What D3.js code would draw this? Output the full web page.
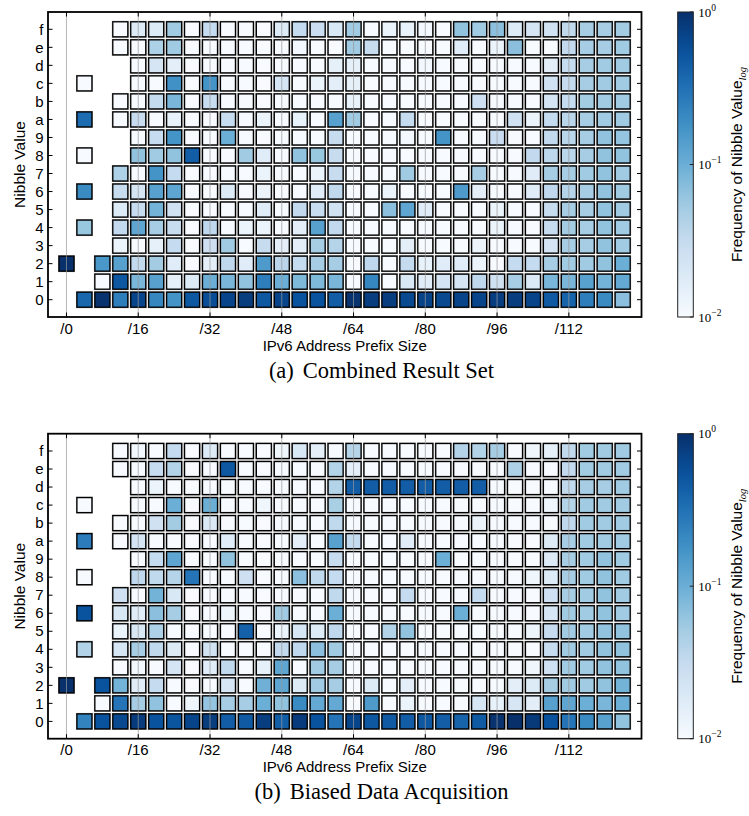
<!DOCTYPE html>
<html>
<head>
<meta charset="utf-8">
<script src="https://cdn.jsdelivr.net/npm/d3@7"></script>
<style>
  body { margin: 0; background: #fff; }
  svg { display: block; }
</style>
</head>
<body>
<svg id="chart" width="749" height="816"></svg>
<script>
// Nibble values on the vertical axis (row index 0..15)
const nibbleLabels = ["0","1","2","3","4","5","6","7","8","9","a","b","c","d","e","f"];
// Prefix sizes (bits) marked on the horizontal axis
const prefixTicks = [0, 16, 32, 48, 64, 80, 96, 112];
const prefixTickLabels = ["/0", "/16", "/32", "/48", "/64", "/80", "/96", "/112"];
// Colour bar ticks (log scale) and their exponents
const colorbarTicks = [1, 0.1, 0.01];
const colorbarExponents = ["0", "\u22121", "\u22122"];

// Frequency of each nibble value at nibble positions 0..31 (null = value never seen)
// (a) Combined result set — one array per nibble value 0..f
const combinedSet = [
  /* 0 */ [null,0.38,0.95,0.25,0.7,0.22,0.17,0.5,0.6,0.7,0.8,0.5,0.7,0.55,0.55,0.45,0.95,0.78,0.78,0.65,0.72,0.65,0.7,0.7,0.78,0.78,0.7,0.48,0.4,0.25,0.2,0.07],
  /* 1 */ [null,null,0.01,0.5,0.085,0.13,0.015,0.018,0.1,0.085,0.065,0.25,0.1,0.08,0.08,0.085,0.01,0.22,0.01,0.02,0.017,0.022,0.022,0.035,0.025,0.05,0.019,0.085,0.085,0.13,0.09,0.11],
  /* 2 */ [1.0,null,0.16,0.13,0.033,0.052,0.017,0.01,0.016,0.035,0.017,0.15,0.037,0.032,0.05,0.05,0.01,0.035,0.01,0.032,0.014,0.017,0.017,0.013,0.01,0.032,0.032,0.05,0.055,0.055,0.065,0.1],
  /* 3 */ [null,null,null,0.013,0.01,0.015,0.032,0.01,0.027,0.055,0.01,0.03,0.016,0.016,0.05,0.04,0.01,0.01,0.01,0.016,0.01,0.01,0.01,0.013,0.01,0.01,0.01,0.022,0.05,0.05,0.065,0.055],
  /* 4 */ [null,0.06,null,0.033,0.12,0.05,0.03,0.01,0.035,0.01,0.013,0.013,0.01,0.016,0.13,0.033,0.01,0.01,0.01,0.01,0.01,0.01,0.01,0.01,0.013,0.01,0.01,0.03,0.052,0.05,0.065,0.055],
  /* 5 */ [null,null,null,0.018,0.03,0.09,0.025,0.01,0.01,0.01,0.01,0.017,0.01,0.033,0.03,0.025,0.01,0.01,0.07,0.12,0.017,0.01,0.01,0.01,0.013,0.01,0.01,0.03,0.05,0.05,0.065,0.055],
  /* 6 */ [null,0.2,null,0.03,0.022,0.13,0.12,0.01,0.01,0.018,0.01,0.013,0.01,0.01,0.017,0.034,0.01,0.01,0.013,0.01,0.01,0.01,0.15,0.016,0.01,0.01,0.017,0.035,0.04,0.05,0.065,0.055],
  /* 7 */ [null,null,null,0.045,0.01,0.17,0.032,0.01,0.01,0.01,0.01,0.013,0.01,0.01,0.013,0.03,0.01,0.01,0.01,0.055,0.01,0.01,0.01,0.05,0.01,0.01,0.017,0.05,0.05,0.055,0.065,0.055],
  /* 8 */ [null,0.01,null,null,0.065,0.055,0.065,0.45,0.01,0.01,0.055,0.017,0.01,0.065,0.06,0.03,0.01,0.01,0.01,0.01,0.01,0.01,0.01,0.01,0.01,0.01,0.033,0.036,0.038,0.05,0.065,0.065],
  /* 9 */ [null,null,null,null,0.01,0.03,0.17,0.01,0.01,0.1,0.01,0.01,0.01,0.01,0.01,0.03,0.01,0.01,0.01,0.011,0.01,0.17,0.01,0.01,0.029,0.01,0.01,0.033,0.038,0.05,0.065,0.063],
  /* a */ [null,0.35,null,0.01,0.03,0.01,0.014,0.01,0.01,0.03,0.01,0.013,0.01,0.014,0.01,0.13,0.055,0.01,0.01,0.032,0.01,0.01,0.01,0.01,0.01,0.025,0.013,0.032,0.038,0.05,0.055,0.055],
  /* b */ [null,null,null,0.01,0.01,0.032,0.085,0.01,0.03,0.01,0.01,0.01,0.01,0.01,0.01,0.01,0.014,0.01,0.01,0.01,0.01,0.01,0.01,0.026,0.01,0.01,0.01,0.022,0.032,0.052,0.055,0.055],
  /* c */ [null,0.01,null,null,0.01,0.01,0.18,0.01,0.17,0.01,0.01,0.01,0.021,0.01,0.013,0.016,0.015,0.01,0.01,0.01,0.01,0.01,0.01,0.01,0.01,0.01,0.01,0.024,0.032,0.05,0.055,0.055],
  /* d */ [null,null,null,null,0.01,0.022,0.016,0.01,0.01,0.01,0.01,0.01,0.01,0.01,0.01,0.015,0.015,0.01,0.01,0.01,0.011,0.01,0.01,0.01,0.01,0.01,0.01,0.016,0.032,0.05,0.055,0.055],
  /* e */ [null,null,null,0.01,0.01,0.045,0.055,0.01,0.01,0.01,0.01,0.01,0.01,0.011,0.01,0.01,0.055,0.03,0.01,0.01,0.01,0.01,0.017,0.01,0.013,0.07,0.01,0.01,0.033,0.05,0.05,0.055],
  /* f */ [null,null,null,0.01,0.018,0.018,0.055,0.01,0.032,0.01,0.01,0.01,0.018,0.032,0.028,0.02,0.055,0.01,0.013,0.014,0.011,0.01,0.065,0.055,0.07,0.018,0.022,0.024,0.034,0.05,0.05,0.052]
];

// (b) Biased data acquisition — one array per nibble value 0..f
const biasedSet = [
  /* 0 */ [null,0.23,0.55,0.65,0.82,0.55,0.52,0.7,0.8,0.45,0.48,0.78,0.44,0.82,0.55,0.3,0.7,0.5,0.48,0.45,0.5,0.45,0.4,0.48,0.95,1.0,0.85,0.55,0.3,0.2,0.13,0.065],
  /* 1 */ [null,null,0.01,0.3,0.05,0.065,0.01,0.012,0.063,0.05,0.05,0.1,0.065,0.2,0.11,0.11,0.01,0.15,0.01,0.013,0.01,0.01,0.01,0.021,0.014,0.021,0.016,0.13,0.12,0.1,0.085,0.1],
  /* 2 */ [1.0,null,0.55,0.09,0.017,0.032,0.01,0.01,0.01,0.021,0.01,0.095,0.12,0.018,0.055,0.05,0.01,0.018,0.01,0.016,0.01,0.01,0.01,0.01,0.01,0.016,0.018,0.05,0.055,0.055,0.065,0.09],
  /* 3 */ [null,null,null,0.01,0.011,0.01,0.022,0.01,0.017,0.034,0.01,0.015,0.12,0.01,0.055,0.05,0.01,0.01,0.01,0.01,0.01,0.01,0.01,0.01,0.01,0.01,0.012,0.026,0.055,0.055,0.065,0.065],
  /* 4 */ [null,0.042,null,0.021,0.05,0.034,0.018,0.01,0.024,0.01,0.01,0.01,0.033,0.035,0.07,0.055,0.01,0.01,0.01,0.01,0.01,0.01,0.01,0.01,0.01,0.01,0.01,0.03,0.055,0.055,0.065,0.065],
  /* 5 */ [null,null,null,0.013,0.02,0.045,0.01,0.01,0.01,0.01,0.42,0.01,0.013,0.021,0.018,0.035,0.01,0.01,0.042,0.065,0.01,0.01,0.01,0.01,0.01,0.01,0.013,0.03,0.055,0.055,0.065,0.065],
  /* 6 */ [null,0.55,null,0.02,0.017,0.07,0.05,0.01,0.01,0.012,0.01,0.01,0.055,0.01,0.01,0.1,0.01,0.01,0.01,0.01,0.01,0.01,0.1,0.01,0.01,0.01,0.01,0.021,0.055,0.055,0.065,0.055],
  /* 7 */ [null,null,null,0.026,0.01,0.09,0.02,0.01,0.01,0.01,0.01,0.01,0.01,0.01,0.01,0.034,0.01,0.01,0.01,0.032,0.01,0.01,0.01,0.032,0.01,0.01,0.01,0.026,0.05,0.055,0.065,0.055],
  /* 8 */ [null,0.01,null,null,0.035,0.034,0.04,0.3,0.01,0.01,0.026,0.01,0.01,0.07,0.034,0.032,0.01,0.01,0.01,0.01,0.01,0.01,0.01,0.01,0.01,0.01,0.012,0.018,0.05,0.055,0.065,0.055],
  /* 9 */ [null,null,null,null,0.01,0.032,0.12,0.01,0.01,0.065,0.01,0.01,0.01,0.01,0.01,0.03,0.01,0.01,0.01,0.01,0.01,0.1,0.01,0.01,0.01,0.01,0.01,0.018,0.05,0.055,0.065,0.055],
  /* a */ [null,0.26,null,0.01,0.022,0.01,0.01,0.01,0.01,0.017,0.01,0.01,0.01,0.016,0.01,0.13,0.032,0.01,0.01,0.017,0.01,0.01,0.01,0.01,0.01,0.01,0.01,0.018,0.05,0.055,0.055,0.055],
  /* b */ [null,null,null,0.01,0.01,0.025,0.052,0.01,0.019,0.01,0.01,0.01,0.01,0.01,0.01,0.034,0.01,0.01,0.01,0.01,0.01,0.01,0.01,0.013,0.01,0.01,0.01,0.01,0.035,0.055,0.055,0.055],
  /* c */ [null,0.01,null,null,0.01,0.01,0.1,0.01,0.1,0.01,0.01,0.012,0.01,0.01,0.01,0.048,0.01,0.01,0.01,0.01,0.01,0.01,0.01,0.01,0.01,0.01,0.01,0.012,0.042,0.055,0.055,0.055],
  /* d */ [null,null,null,null,0.01,0.013,0.01,0.01,0.01,0.01,0.01,0.01,0.01,0.01,0.01,0.042,0.45,0.45,0.45,0.45,0.45,0.45,0.45,0.45,0.01,0.01,0.01,0.01,0.034,0.05,0.05,0.055],
  /* e */ [null,null,null,0.01,0.01,0.03,0.042,0.01,0.01,0.5,0.01,0.01,0.01,0.01,0.01,0.042,0.016,0.01,0.01,0.01,0.01,0.01,0.01,0.01,0.01,0.045,0.01,0.01,0.033,0.055,0.055,0.055],
  /* f */ [null,null,null,0.01,0.011,0.01,0.032,0.01,0.018,0.01,0.01,0.01,0.012,0.02,0.016,0.01,0.04,0.01,0.01,0.01,0.01,0.01,0.042,0.042,0.05,0.01,0.012,0.015,0.034,0.055,0.055,0.055]
];

const svg = d3.select("#chart");
svg.append("rect").attr("width", 749).attr("height", 816).attr("fill", "#fff");

const sansFont = "'Liberation Sans', Arial, Helvetica, sans-serif";
const serifFont = "'Liberation Serif', 'Times New Roman', serif";

// Horizontal axis in bits; each nibble sits at bit 4*i
const plotLeft = 48, plotRight = 641.5;
const x = d3.scaleLinear().domain([-4.12, 128.2]).range([plotLeft, plotRight]);

// matplotlib-style "Blues" map on a log scale from 1e-2 to 1e0
const bluesRamp = d3.scaleLinear()
  .domain(d3.range(9).map(i => i / 8))
  .range(d3.schemeBlues[9])
  .interpolate(d3.interpolateRgb);
const logPos = d3.scaleLog().domain([0.01, 1]).range([0, 1]).clamp(true);
const color = v => bluesRamp(logPos(v));

// Shared vertical gradient for the colour bars
const defs = svg.append("defs");
const grad = defs.append("linearGradient")
  .attr("id", "cbGrad").attr("x1", 0).attr("y1", 1).attr("x2", 0).attr("y2", 0);
d3.range(0, 1.0001, 0.05).forEach(t => {
  grad.append("stop").attr("offset", t).attr("stop-color", bluesRamp(t));
});

function drawPanel(top, data, captionLabel, captionText, captionY) {
  const bottom = top + 305;
  const y = d3.scaleLinear().domain([-0.96, 15.96]).range([bottom, top]);
  const g = svg.append("g");

  const cells = [];
  data.forEach((row, r) => row.forEach((v, c) => {
    if (v !== null) cells.push({ r, c, v });
  }));

  const halo = 16.9, inner = 15.0;
  // soft grey rim around each square
  g.append("g").selectAll("rect").data(cells).join("rect")
    .attr("x", d => x(4 * d.c) - halo / 2)
    .attr("y", d => y(d.r) - halo / 2)
    .attr("width", halo).attr("height", halo)
    .attr("fill", "#8a8a8a");
  // coloured squares with black edges
  g.append("g").selectAll("rect").data(cells).join("rect")
    .attr("x", d => x(4 * d.c) - inner / 2)
    .attr("y", d => y(d.r) - inner / 2)
    .attr("width", inner).attr("height", inner)
    .attr("fill", d => color(d.v))
    .attr("stroke", "#000")
    .attr("stroke-width", 1.3);

  // vertical grid lines at the prefix ticks, drawn over the squares
  g.append("g").selectAll("line").data(prefixTicks).join("line")
    .attr("x1", d => x(d)).attr("x2", d => x(d))
    .attr("y1", top).attr("y2", bottom)
    .attr("stroke", "#999").attr("stroke-opacity", 0.7).attr("stroke-width", 1);

  // inward ticks on all four sides
  const tl = 4.5;
  const ticks = g.append("g").attr("stroke", "#000").attr("stroke-width", 1);
  prefixTicks.forEach(b => {
    ticks.append("line").attr("x1", x(b)).attr("x2", x(b)).attr("y1", top).attr("y2", top + tl);
    ticks.append("line").attr("x1", x(b)).attr("x2", x(b)).attr("y1", bottom).attr("y2", bottom - tl);
  });
  nibbleLabels.forEach((n, r) => {
    ticks.append("line").attr("x1", plotLeft).attr("x2", plotLeft + tl).attr("y1", y(r)).attr("y2", y(r));
    ticks.append("line").attr("x1", plotRight).attr("x2", plotRight - tl).attr("y1", y(r)).attr("y2", y(r));
  });

  // frame
  g.append("rect")
    .attr("x", plotLeft).attr("y", top)
    .attr("width", plotRight - plotLeft).attr("height", bottom - top)
    .attr("fill", "none").attr("stroke", "#000").attr("stroke-width", 1.8);

  // tick labels
  g.append("g").selectAll("text").data(nibbleLabels).join("text")
    .attr("x", 43.5).attr("y", (d, i) => y(i) + 5.2)
    .attr("text-anchor", "end")
    .attr("font-family", sansFont).attr("font-size", 15)
    .text(d => d);
  g.append("g").selectAll("text").data(prefixTicks).join("text")
    .attr("x", d => x(d)).attr("y", bottom + 16.5)
    .attr("text-anchor", "middle")
    .attr("font-family", sansFont).attr("font-size", 15)
    .text((d, i) => prefixTickLabels[i]);

  // axis titles
  g.append("text")
    .attr("x", (plotLeft + plotRight) / 2).attr("y", bottom + 33.5)
    .attr("text-anchor", "middle")
    .attr("font-family", sansFont).attr("font-size", 15)
    .text("IPv6 Address Prefix Size");
  g.append("text")
    .attr("transform", `translate(24.5,${(top + bottom) / 2}) rotate(-90)`)
    .attr("text-anchor", "middle")
    .attr("font-family", sansFont).attr("font-size", 15.5)
    .text("Nibble Value");

  // colour bar
  const cbX = 677.7, cbW = 15.6;
  const cbY = d3.scaleLog().domain([0.01, 1]).range([bottom, top]);
  g.append("rect")
    .attr("x", cbX).attr("y", top).attr("width", cbW).attr("height", bottom - top)
    .attr("fill", "url(#cbGrad)").attr("stroke", "#222").attr("stroke-width", 1);
  colorbarTicks.forEach((t, i) => {
    g.append("line")
      .attr("x1", cbX + cbW).attr("x2", cbX + cbW - 3.5)
      .attr("y1", cbY(t)).attr("y2", cbY(t))
      .attr("stroke", "#222").attr("stroke-width", 1);
    const lab = g.append("text")
      .attr("x", cbX + cbW + 5).attr("y", cbY(t) + 4.5)
      .attr("font-family", serifFont).attr("font-size", 13);
    lab.append("tspan").text("10");
    lab.append("tspan").attr("dy", -6).attr("font-size", 9.5).text(colorbarExponents[i]);
  });
  const cbLabel = g.append("text")
    .attr("transform", `translate(742,${(top + bottom) / 2}) rotate(-90)`)
    .attr("text-anchor", "middle")
    .attr("font-family", sansFont).attr("font-size", 15.5);
  cbLabel.append("tspan").text("Frequency of Nibble Value");
  cbLabel.append("tspan").attr("dy", 3.5).attr("font-size", 10.5)
    .attr("font-style", "italic").attr("font-family", serifFont).text("log");

  // sub-figure caption
  const cap = svg.append("text")
    .attr("x", 381.5).attr("y", captionY)
    .attr("text-anchor", "middle")
    .attr("font-family", serifFont).attr("font-size", 22.5);
  cap.append("tspan").text(captionLabel);
  cap.append("tspan").attr("dx", 9).text(captionText);
}

drawPanel(12, combinedSet, "(a)", "Combined Result Set", 378);
drawPanel(433.7, biasedSet, "(b)", "Biased Data Acquisition", 799);
</script>
</body>
</html>
